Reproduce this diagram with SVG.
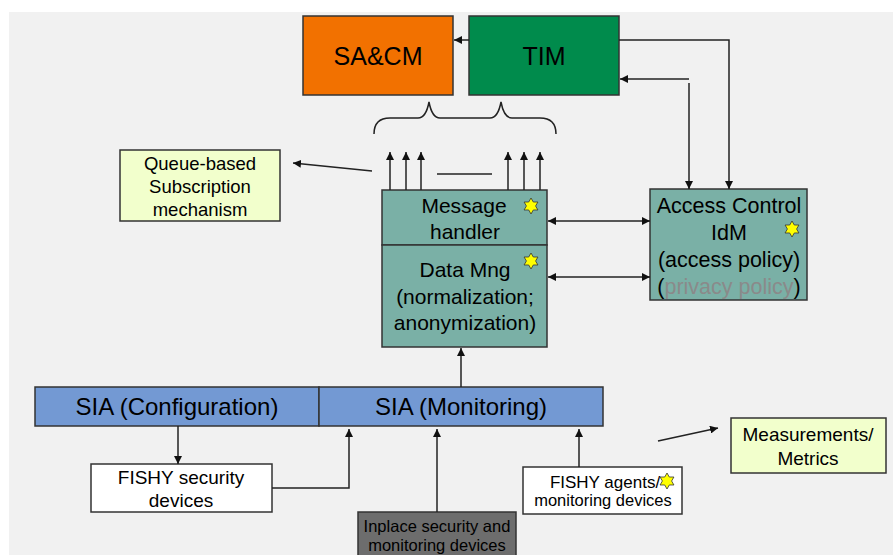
<svg xmlns="http://www.w3.org/2000/svg" width="893" height="555" viewBox="0 0 893 555">
<style>
.t{font-family:"Liberation Sans",Arial,sans-serif;fill:#000;text-anchor:middle}
.box{stroke:#333;stroke-width:1.5}
.ln{stroke:#222;stroke-width:1.5;fill:none}
</style>
<defs>
<marker id="ah" viewBox="0 0 10 10" refX="10" refY="5" markerWidth="8" markerHeight="8" markerUnits="userSpaceOnUse" orient="auto-start-reverse">
<path d="M0,0 L10,5 L0,10 z" fill="#111"/>
</marker>
<polygon id="star" points="0,-8 2.3,-3.98 6.93,-4 4.6,0 6.93,4 2.3,3.98 0,8 -2.3,3.98 -6.93,4 -4.6,0 -6.93,-4 -2.3,-3.98" fill="#ffff00" stroke="#333" stroke-width="0.8"/>
</defs>
<rect x="0" y="0" width="893" height="555" fill="#ffffff"/>
<rect x="9" y="12" width="884" height="543" fill="#f1f1f1"/>

<g id="sacm">
<rect class="box" x="303" y="16" width="150" height="79" fill="#f27100"/>
<text class="t" x="378" y="65" font-size="25">SA&amp;CM</text>
</g>
<g id="tim">
<rect class="box" x="469" y="16" width="150" height="79" fill="#008b4c"/>
<text class="t" x="544" y="65" font-size="25">TIM</text>
</g>
<g id="queue">
<rect class="box" x="120" y="150" width="160" height="71" fill="#f2ffcc"/>
<text class="t" x="200" y="170" font-size="18.5">Queue-based</text>
<text class="t" x="200" y="193" font-size="18.5">Subscription</text>
<text class="t" x="200" y="216" font-size="18.5">mechanism</text>
</g>
<g id="msg">
<rect class="box" x="382" y="190" width="165" height="55" fill="#7ab0a6"/>
<text class="t" x="464" y="213" font-size="21">Message</text>
<text class="t" x="465" y="239" font-size="21">handler</text>
<use href="#star" x="531" y="206"/>
</g>
<g id="datamng">
<rect class="box" x="382" y="245" width="165" height="102" fill="#7ab0a6"/>
<text class="t" x="465" y="277" font-size="21">Data Mng</text>
<text class="t" x="465" y="304" font-size="21">(normalization;</text>
<text class="t" x="465" y="330" font-size="21">anonymization)</text>
<use href="#star" x="531" y="261"/>
</g>
<g id="access">
<rect class="box" x="650" y="189" width="157" height="111" fill="#7ab0a6"/>
<text class="t" x="729" y="213" font-size="21.5">Access Control</text>
<text class="t" x="729" y="240" font-size="21.5">IdM</text>
<text class="t" x="729" y="267" font-size="21.5">(access policy)</text>
<text class="t" x="729" y="294" font-size="21.5">(<tspan fill="#8a8a8a">privacy policy</tspan>)</text>
<use href="#star" x="792" y="229"/>
</g>
<g id="sia-config">
<rect class="box" x="35" y="387" width="284" height="39" fill="#7399d3"/>
<text class="t" x="177" y="415" font-size="24">SIA (Configuration)</text>
</g>
<g id="sia-monitor">
<rect class="box" x="319" y="387" width="284" height="39" fill="#7399d3"/>
<text class="t" x="461" y="415" font-size="24">SIA (Monitoring)</text>
</g>
<g id="fishy-sec">
<rect class="box" x="91" y="464" width="181" height="48" fill="#ffffff"/>
<text class="t" x="181" y="484" font-size="19">FISHY security</text>
<text class="t" x="181" y="507" font-size="19">devices</text>
</g>
<g id="inplace">
<rect class="box" x="358" y="512" width="158" height="50" fill="#6d6d6d"/>
<text class="t" x="437" y="532" font-size="16.5">Inplace security and</text>
<text class="t" x="437" y="551" font-size="16.5">monitoring devices</text>
</g>
<g id="fishy-agents">
<rect class="box" x="523" y="467" width="159" height="47" fill="#ffffff"/>
<text class="t" x="605" y="488" font-size="17">FISHY agents/</text>
<text class="t" x="603" y="506" font-size="16.5">monitoring devices</text>
<use href="#star" x="667" y="481" transform="translate(0 0)"/>
</g>
<g id="metrics">
<rect class="box" x="731" y="418" width="155" height="55" fill="#f2ffcc"/>
<text class="t" x="808" y="441" font-size="19">Measurements/</text>
<text class="t" x="808" y="465" font-size="19">Metrics</text>
</g>

<g id="connectors">
<line class="ln" x1="469" y1="40" x2="454" y2="40" marker-end="url(#ah)"/>
<polyline class="ln" points="619,40 729,40 729,189" marker-end="url(#ah)"/>
<line class="ln" x1="689" y1="79" x2="620" y2="79" marker-end="url(#ah)"/>
<line class="ln" x1="689" y1="83" x2="689" y2="189" marker-end="url(#ah)"/>
<path class="ln" d="M374,134 Q374,118 390,118 L418,118 Q426,118 429,102 Q432,118 440,118 L490,118 Q498,118 501,102 Q504,118 512,118 L540,118 Q556,118 556,134"/>
<line class="ln" x1="390" y1="190" x2="390" y2="152" marker-end="url(#ah)"/>
<line class="ln" x1="406" y1="190" x2="406" y2="152" marker-end="url(#ah)"/>
<line class="ln" x1="421" y1="190" x2="421" y2="152" marker-end="url(#ah)"/>
<line class="ln" x1="508" y1="190" x2="508" y2="152" marker-end="url(#ah)"/>
<line class="ln" x1="524" y1="190" x2="524" y2="152" marker-end="url(#ah)"/>
<line class="ln" x1="540" y1="190" x2="540" y2="152" marker-end="url(#ah)"/>
<line class="ln" x1="437" y1="174" x2="492" y2="174"/>
<line class="ln" x1="372" y1="171" x2="293" y2="163" marker-end="url(#ah)"/>
<line class="ln" x1="548" y1="221" x2="650" y2="221" marker-start="url(#ah)" marker-end="url(#ah)"/>
<line class="ln" x1="548" y1="277" x2="650" y2="277" marker-start="url(#ah)" marker-end="url(#ah)"/>
<line class="ln" x1="461" y1="387" x2="461" y2="348" marker-end="url(#ah)"/>
<line class="ln" x1="178" y1="426" x2="178" y2="464" marker-end="url(#ah)"/>
<polyline class="ln" points="272,488 349,488 349,429" marker-end="url(#ah)"/>
<line class="ln" x1="437" y1="512" x2="437" y2="429" marker-end="url(#ah)"/>
<line class="ln" x1="579" y1="467" x2="579" y2="429" marker-end="url(#ah)"/>
<line class="ln" x1="658" y1="441" x2="718" y2="428" marker-end="url(#ah)"/>
</g>
</svg>
